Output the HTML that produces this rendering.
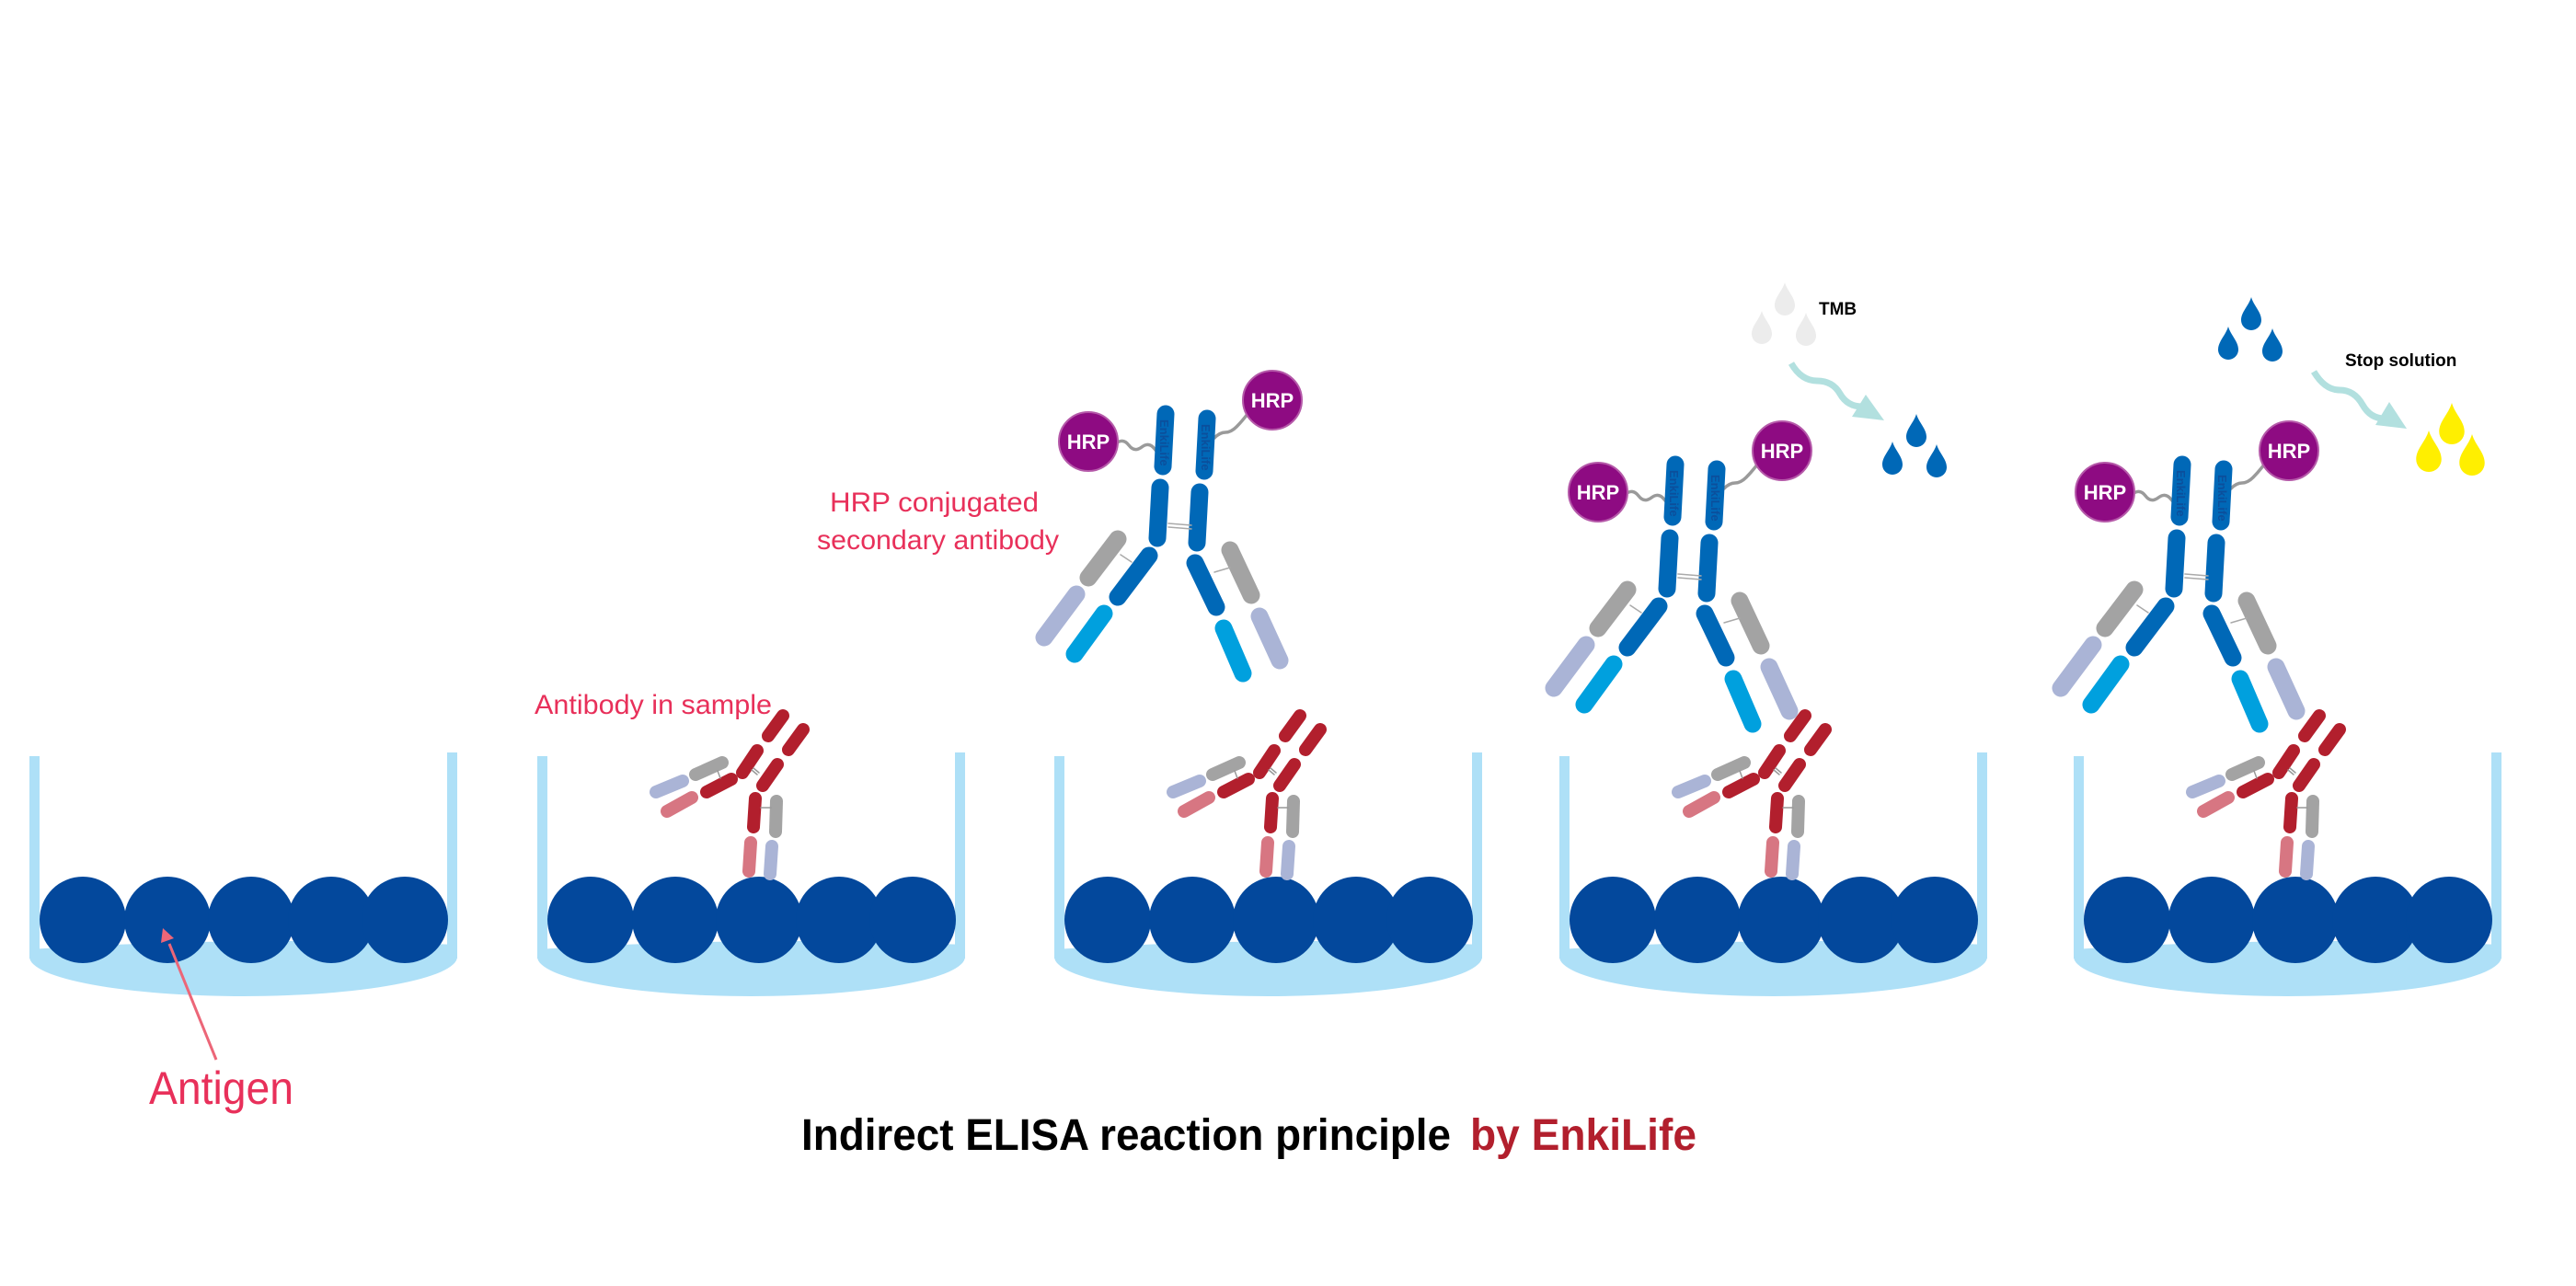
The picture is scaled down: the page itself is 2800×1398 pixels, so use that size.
<!DOCTYPE html>
<html><head><meta charset="utf-8"><style>html,body{margin:0;padding:0;background:#fff}svg{display:block}</style></head>
<body>
<svg width="2800" height="1398" viewBox="0 0 2800 1398" xmlns="http://www.w3.org/2000/svg" font-family="Liberation Sans, Arial, sans-serif">
<defs>
<path id="drop" d="M0 0 C3 10 11 16 11 25 A11 11 0 0 1 -11 25 C-11 16 -3 10 0 0Z"/>
<g id="well">
  <rect x="0" y="0" width="11" height="220" fill="#aee0f7"/>
  <rect x="454" y="-4" width="11" height="224" fill="#aee0f7"/>
  <path d="M0 210 L0 218 A232.5 43 0 0 0 465 218 L465 205 Q232 195 0 210Z" fill="#aee0f7"/>
  <g fill="#03489c">
    <circle cx="58" cy="178" r="47"/><circle cx="150" cy="178" r="47"/><circle cx="241" cy="178" r="47"/><circle cx="328" cy="178" r="47"/><circle cx="408" cy="178" r="47"/>
  </g>
</g>
<g id="red" stroke-linecap="round" fill="none">
  <g stroke="#b21f2d" stroke-width="14">
    <line x1="851" y1="778" x2="835" y2="800"/>
    <line x1="873" y1="793" x2="857" y2="815"/>
    <line x1="823" y1="816" x2="807" y2="840"/>
    <line x1="845" y1="831" x2="829" y2="854"/>
    <line x1="795" y1="847" x2="768" y2="861"/>
    <line x1="821" y1="868" x2="819" y2="899"/>
  </g>
  <g stroke="#a3a3a3" stroke-width="14">
    <line x1="785" y1="829" x2="756" y2="842"/>
    <line x1="844" y1="871" x2="843" y2="904"/>
  </g>
  <g stroke="#aab4d6" stroke-width="14">
    <line x1="742" y1="849" x2="713" y2="861"/>
    <line x1="839" y1="920" x2="837" y2="950"/>
  </g>
  <g stroke="#d77682" stroke-width="14">
    <line x1="752" y1="867" x2="725" y2="882"/>
    <line x1="816" y1="916" x2="814" y2="947"/>
  </g>
  <g stroke="#999" stroke-width="1.5">
    <line x1="817" y1="837" x2="823" y2="842"/><line x1="819" y1="835" x2="825" y2="840"/>
    <line x1="780" y1="838" x2="783" y2="846"/>
    <line x1="827" y1="878" x2="838" y2="878"/>
  </g>
</g>
<g id="blueShapes" stroke-linecap="round" fill="none">
  <path d="M1213 482 q8 -6 14 2 t14 2 t14 2 t12 2" stroke="#9a9a9a" stroke-width="3.5"/>
  <path d="M1356 450 q-6 8 -12 14 t-12 6 t-12 6" stroke="#9a9a9a" stroke-width="3.5"/>
  <g stroke="#0068b7" stroke-width="19">
    <line x1="1267" y1="450" x2="1264" y2="507"/>
    <line x1="1312" y1="455" x2="1309" y2="512"/>
    <line x1="1261" y1="530" x2="1258" y2="585"/>
    <line x1="1304" y1="535" x2="1301" y2="590"/>
    <line x1="1249" y1="604" x2="1215" y2="649"/>
    <line x1="1299" y1="612" x2="1322" y2="660"/>
  </g>
  <g stroke="#00a0de" stroke-width="19">
    <line x1="1200" y1="667" x2="1168" y2="711"/>
    <line x1="1330" y1="683" x2="1351" y2="732"/>
  </g>
  <g stroke="#a3a3a3" stroke-width="19">
    <line x1="1215" y1="586" x2="1183" y2="628"/>
    <line x1="1337" y1="598" x2="1360" y2="647"/>
  </g>
  <g stroke="#aab4d6" stroke-width="19">
    <line x1="1170" y1="646" x2="1135" y2="693"/>
    <line x1="1369" y1="670" x2="1391" y2="718"/>
  </g>
  <g stroke="#aaa" stroke-width="1.5">
    <line x1="1270" y1="569" x2="1295" y2="571"/><line x1="1270" y1="573" x2="1295" y2="575"/>
    <line x1="1218" y1="603" x2="1230" y2="611"/>
    <line x1="1320" y1="622" x2="1337" y2="617"/>
  </g>
  <circle cx="1183" cy="480" r="32" fill="#8e0b82" stroke="#b55aa9" stroke-width="2"/>
  <circle cx="1383" cy="435" r="32" fill="#8e0b82" stroke="#b55aa9" stroke-width="2"/>
</g>
</defs>

<use href="#well" x="32" y="822"/>
<use href="#well" x="584" y="822"/>
<use href="#well" x="1146" y="822"/>
<use href="#well" x="1695" y="822"/>
<use href="#well" x="2254" y="822"/>

<use href="#red"/>
<use href="#red" x="562"/>
<use href="#red" x="1111"/>
<use href="#red" x="1670"/>

<g>
  <use href="#blueShapes"/>
  <g font-weight="bold" fill="#fff" font-size="22" text-anchor="middle"><text x="1183" y="488">HRP</text><text x="1383" y="443">HRP</text></g>
  <g font-size="13" fill="#0b4f9c" font-weight="bold"><text transform="translate(1261,456) rotate(90)">EnkiLife</text><text transform="translate(1306,461) rotate(90)">EnkiLife</text></g>
</g>
<g transform="translate(554,55)">
  <use href="#blueShapes"/>
  <g font-weight="bold" fill="#fff" font-size="22" text-anchor="middle"><text x="1183" y="488">HRP</text><text x="1383" y="443">HRP</text></g>
  <g font-size="13" fill="#0b4f9c" font-weight="bold"><text transform="translate(1261,456) rotate(90)">EnkiLife</text><text transform="translate(1306,461) rotate(90)">EnkiLife</text></g>
</g>
<g transform="translate(1105,55)">
  <use href="#blueShapes"/>
  <g font-weight="bold" fill="#fff" font-size="22" text-anchor="middle"><text x="1183" y="488">HRP</text><text x="1383" y="443">HRP</text></g>
  <g font-size="13" fill="#0b4f9c" font-weight="bold"><text transform="translate(1261,456) rotate(90)">EnkiLife</text><text transform="translate(1306,461) rotate(90)">EnkiLife</text></g>
</g>

<line x1="235" y1="1152" x2="184" y2="1026" stroke="#ec6678" stroke-width="3"/>
<polygon points="177,1009 175,1025 189,1020" fill="#ec6678"/>

<g fill="#e8305a">
  <text x="162" y="1200" font-size="50" textLength="157" lengthAdjust="spacingAndGlyphs">Antigen</text>
  <text x="581" y="776" font-size="30" textLength="258" lengthAdjust="spacingAndGlyphs">Antibody in sample</text>
  <text x="902" y="556" font-size="30" textLength="227" lengthAdjust="spacingAndGlyphs">HRP conjugated</text>
  <text x="888" y="597" font-size="30" textLength="263" lengthAdjust="spacingAndGlyphs">secondary antibody</text>
</g>
<text x="871" y="1250" font-size="48" font-weight="bold" fill="#000" textLength="706" lengthAdjust="spacingAndGlyphs">Indirect ELISA reaction principle</text>
<text x="1598" y="1250" font-size="48" font-weight="bold" fill="#b21f2d" textLength="246" lengthAdjust="spacingAndGlyphs">by EnkiLife</text>

<g fill="#ececec">
  <use href="#drop" x="1940" y="307"/><use href="#drop" x="1915" y="338"/><use href="#drop" x="1963" y="340"/>
</g>
<text x="1977" y="342" font-size="19" font-weight="bold" fill="#000">TMB</text>
<path d="M1947 395 Q1958 414 1975 414 T2000 428 T2024 442" stroke="#b2e0df" stroke-width="7" fill="none"/>
<polygon points="2013,453 2028,429 2048,457" fill="#b2e0df"/>
<g fill="#0068b7">
  <use href="#drop" x="2083" y="450"/><use href="#drop" x="2057" y="480"/><use href="#drop" x="2105" y="483"/>
</g>

<g fill="#0068b7">
  <use href="#drop" x="2447" y="323"/><use href="#drop" x="2422" y="355"/><use href="#drop" x="2470" y="357"/>
</g>
<text x="2549" y="398" font-size="19" font-weight="bold" fill="#000">Stop solution</text>
<path d="M2515 404 Q2527 424 2543 424 T2568 440 T2594 455" stroke="#b2e0df" stroke-width="7" fill="none"/>
<polygon points="2582,462 2597,437 2616,466" fill="#b2e0df"/>
<g fill="#ffef00">
  <use href="#drop" transform="translate(2665,438) scale(1.25)"/>
  <use href="#drop" transform="translate(2640,468) scale(1.25)"/>
  <use href="#drop" transform="translate(2687,472) scale(1.25)"/>
</g>
</svg>
</body></html>
